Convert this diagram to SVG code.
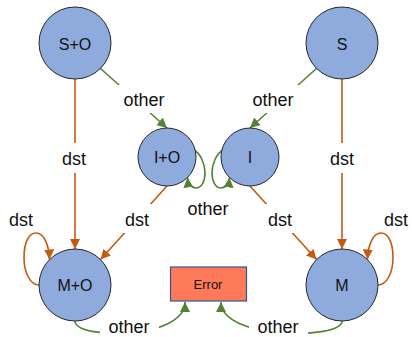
<svg xmlns="http://www.w3.org/2000/svg" width="412" height="337" viewBox="0 0 412 337">
  <style>
    .state { fill: #8FAADC; stroke: #262626; stroke-width: 1; }
    .state-label { font-family: "Liberation Sans", Arial, sans-serif; font-size: 16px; fill: #111; text-anchor: middle; }
    .edge-label { font-family: "Liberation Sans", Arial, sans-serif; font-size: 18px; fill: #111; text-anchor: middle; }
    .dst { fill: none; stroke: #C55A11; stroke-width: 1.6; marker-end: url(#arrow-dst); }
    .other { fill: none; stroke: #548235; stroke-width: 1.6; marker-end: url(#arrow-other); }
    .gap { fill: #FFFFFF; }
    .error-box { fill: #FF7A59; stroke: #2F5597; stroke-width: 1.2; }
    .error-label { font-family: "Liberation Sans", Arial, sans-serif; font-size: 13px; fill: #111; text-anchor: middle; }
  </style>
  <defs>
    <marker id="arrow-dst" viewBox="0 0 10 10" refX="10" refY="5" markerWidth="10" markerHeight="10" markerUnits="userSpaceOnUse" orient="auto">
      <path d="M0 0 L10 5 L0 10 Z" fill="#C55A11"/>
    </marker>
    <marker id="arrow-other" viewBox="0 0 10 10" refX="10" refY="5" markerWidth="10" markerHeight="10" markerUnits="userSpaceOnUse" orient="auto">
      <path d="M0 0 L10 5 L0 10 Z" fill="#548235"/>
    </marker>
  </defs>

  <rect width="412" height="337" fill="#FFFFFF"/>

  <!-- transitions -->
  <g id="connectors">
    <!-- dst edges -->
    <path class="dst" d="M75 79 L75 249"/>
    <path class="dst" d="M342 79 L342 249"/>
    <path class="dst" d="M167 186 L100.5 259.5"/>
    <path class="dst" d="M250 186 L316.5 259.5"/>
    <path class="dst" d="M39 285 C30 285, 24 272, 24 258 C24 240, 30 233, 36 233 C44 233, 49 245, 49.5 259.5"/>
    <path class="dst" d="M378 285 C387 285, 393 272, 393 258 C393 240, 387 233, 381 233 C373 233, 368 245, 367.5 259.5"/>
    <!-- other edges -->
    <path class="other" d="M100.5 68.5 L167 128"/>
    <path class="other" d="M316.5 68.5 L250 128"/>
    <path class="other" d="M193 149 C201 154, 205 164, 205 173 C205 182, 201 188, 196 188 C191 188, 188 183, 187.5 177.5"/>
    <path class="other" d="M224 149 C216 154, 212 164, 212 173 C212 182, 216 188, 221 188 C226 188, 229 183, 229.5 177.5"/>
    <path class="other" d="M75 321 C75 340, 185 340, 185 302"/>
    <path class="other" d="M342 321 C342 340, 221 340, 221 302"/>

    <!-- edge labels -->
    <rect class="gap" x="62" y="143" width="26" height="30"/>
    <text class="edge-label" x="74" y="165">dst</text>
    <rect class="gap" x="329" y="143" width="26" height="30"/>
    <text class="edge-label" x="342" y="165">dst</text>
    <rect class="gap" x="120" y="204" width="35" height="29"/>
    <text class="edge-label" x="137" y="226">dst</text>
    <rect class="gap" x="262" y="204" width="35" height="29"/>
    <text class="edge-label" x="280" y="226">dst</text>
    <text class="edge-label" x="21" y="226">dst</text>
    <text class="edge-label" x="396" y="226">dst</text>

    <rect class="gap" x="118" y="85" width="50" height="28"/>
    <text class="edge-label" x="144" y="106">other</text>
    <rect class="gap" x="249" y="85" width="50" height="28"/>
    <text class="edge-label" x="273" y="106">other</text>
    <text class="edge-label" x="208" y="215">other</text>
    <rect class="gap" x="100" y="318" width="59" height="19"/>
    <text class="edge-label" x="129" y="333">other</text>
    <rect class="gap" x="249" y="318" width="59" height="19"/>
    <text class="edge-label" x="278" y="333">other</text>
  </g>

  <!-- states -->
  <g id="node-SO">
    <circle class="state" cx="75" cy="43" r="36"/>
    <text class="state-label" x="75" y="50">S+O</text>
  </g>
  <g id="node-S">
    <circle class="state" cx="342" cy="43" r="36"/>
    <text class="state-label" x="342" y="50">S</text>
  </g>
  <g id="node-IO">
    <circle class="state" cx="167" cy="157" r="29"/>
    <text class="state-label" x="167" y="163">I+O</text>
  </g>
  <g id="node-I">
    <circle class="state" cx="250" cy="157" r="29"/>
    <text class="state-label" x="250" y="163">I</text>
  </g>
  <g id="node-MO">
    <circle class="state" cx="75" cy="285" r="36"/>
    <text class="state-label" x="75" y="291">M+O</text>
  </g>
  <g id="node-M">
    <circle class="state" cx="342" cy="285" r="36"/>
    <text class="state-label" x="342" y="291">M</text>
  </g>
  <g id="node-Error">
    <rect class="error-box" x="170.5" y="267" width="76" height="34"/>
    <text class="error-label" x="208" y="289">Error</text>
  </g>
</svg>
